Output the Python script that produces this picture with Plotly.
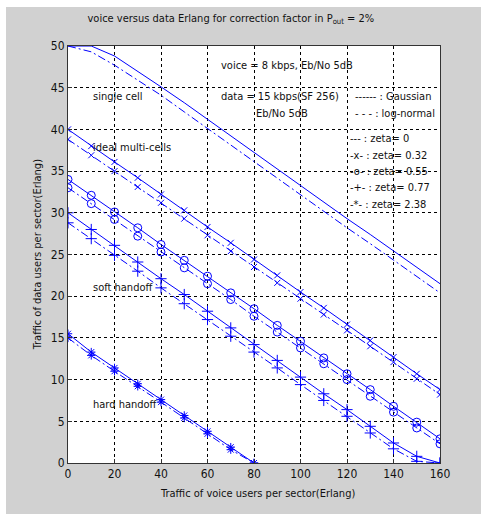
import plotly.graph_objects as go

x_all = [0, 10, 20, 30, 40, 50, 60, 70, 80, 90, 100, 110, 120, 130, 140, 150, 160]
x_hard = [0, 10, 20, 30, 40, 50, 60, 70, 80]

single_gauss = [50, 50, 48.8, 47.0, 45.1, 43.2, 41.2, 39.2, 37.2, 35.2, 33.2, 31.3, 29.3, 27.4, 25.4, 23.4, 21.5]
single_logn = [50, 49.3, 47.7, 45.9, 44.1, 42.1, 40.1, 38.1, 36.1, 34.1, 32.1, 30.1, 28.2, 26.3, 24.3, 22.3, 20.4]

z032_gauss = [40, 38.0, 36.1, 34.2, 32.2, 30.3, 28.3, 26.4, 24.4, 22.5, 20.5, 18.6, 16.6, 14.7, 12.7, 10.7, 8.8]
z032_logn = [38.8, 36.9, 35.0, 33.1, 31.2, 29.3, 27.3, 25.4, 23.5, 21.6, 19.7, 17.8, 15.9, 14.0, 12.1, 10.1, 8.2]

z055_gauss = [34.0, 32.1, 30.1, 28.2, 26.2, 24.3, 22.4, 20.4, 18.5, 16.5, 14.6, 12.6, 10.7, 8.8, 6.8, 4.9, 2.9]
z055_logn = [33.0, 31.1, 29.2, 27.2, 25.3, 23.4, 21.5, 19.6, 17.6, 15.7, 13.8, 11.9, 10.0, 8.0, 6.1, 4.2, 2.3]

z077_gauss = [30.0, 28.0, 26.1, 24.1, 22.1, 20.2, 18.2, 16.2, 14.2, 12.3, 10.3, 8.3, 6.4, 4.4, 2.4, 0.8, 0]
z077_logn = [28.8, 26.9, 24.9, 23.0, 21.0, 19.1, 17.2, 15.2, 13.3, 11.4, 9.4, 7.5, 5.6, 3.6, 1.7, 0.2, 0]

z238_gauss = [15.5, 13.3, 11.4, 9.5, 7.6, 5.7, 3.8, 1.9, 0]
z238_logn = [15.0, 12.9, 11.0, 9.2, 7.3, 5.4, 3.5, 1.6, 0]

BLUE = "#0000ff"
DASHDOT = "8px,3px,2px,3px"
FONT = "DejaVu Sans Condensed, Liberation Sans Narrow, sans-serif"

fig = go.Figure()

def add(xs, ys, dash, symbol=None, size=8):
    mode = "lines" if symbol is None else "lines+markers"
    fig.add_trace(go.Scatter(
        x=xs, y=ys, mode=mode,
        line=dict(color=BLUE, width=1, dash=dash),
        marker=dict(symbol=symbol or "circle", size=size, color=BLUE,
                    line=dict(color=BLUE, width=1)),
        showlegend=False, hoverinfo="skip"))

add(x_all, single_gauss, "solid")
add(x_all, single_logn, DASHDOT)
add(x_all, z032_gauss, "solid", "x-thin", 6)
add(x_all, z032_logn, DASHDOT, "x-thin", 6)
add(x_all, z055_gauss, "solid", "circle-open", 8)
add(x_all, z055_logn, DASHDOT, "circle-open", 8)
add(x_all, z077_gauss, "solid", "cross-thin", 8)
add(x_all, z077_logn, DASHDOT, "cross-thin", 8)
add(x_hard, z238_gauss, "solid", "asterisk-open", 7)
add(x_hard, z238_logn, DASHDOT, "asterisk-open", 7)

tf = dict(family=FONT, size=11, color="#111111")
notes = [
    (65, 47.7, "voice = 8 kbps, Eb/No 5dB"),
    (65, 43.9, "data = 15 kbps(SF 256)"),
    (80, 41.9, "Eb/No 5dB"),
    (122.5, 43.9, "------ : Gaussian"),
    (122.5, 41.9, "- - - : log-normal"),
    (120.5, 38.9, "--- : zeta= 0"),
    (120.5, 36.9, "-x- : zeta= 0.32"),
    (120.5, 35.0, "-o- : zeta= 0.55"),
    (120.5, 33.0, "-+- : zeta= 0.77"),
    (120.5, 31.0, "-*- : zeta= 2.38"),
    (10, 43.9, "single cell"),
    (10, 37.8, "ideal multi-cells"),
    (10, 21.0, "soft handoff"),
    (10, 7.0, "hard handoff"),
]
for xx, yy, t in notes:
    fig.add_annotation(x=xx, y=yy, text=t, showarrow=False, xanchor="left",
                       yanchor="middle", font=tf)

# axis titles
fig.add_annotation(xref="paper", yref="paper", x=0.51, y=-0.074,
                   text="Traffic of voice users per sector(Erlang)", showarrow=False,
                   xanchor="center", yanchor="middle", font=tf)
fig.add_annotation(xref="paper", yref="paper", x=-0.081, y=0.5,
                   text="Traffic of data users per sector(Erlang)", showarrow=False,
                   textangle=-90, xanchor="center", yanchor="middle", font=tf)

# white outer margins
for x0, x1, y0, y1 in [(-0.3, 1.3, 1.0935, 1.3), (-0.3, -0.1667, -0.3, 1.3), (-0.3, 1.3, -0.3, -0.1223)]:
    fig.add_shape(type="rect", xref="paper", yref="paper", x0=x0, x1=x1, y0=y0, y1=y1,
                  fillcolor="white", line=dict(width=0), layer="above")

axis_common = dict(showline=True, linecolor="#333333", linewidth=1, mirror=True,
                   ticks="inside", ticklen=4, tickcolor="#333333",
                   showgrid=True, gridcolor="#000000", gridwidth=1, griddash="3px,3px",
                   zeroline=False, tickfont=dict(family=FONT, size=12, color="#111111"))

fig.update_xaxes(range=[0, 160], tickvals=[0, 20, 40, 60, 80, 100, 120, 140, 160], **axis_common)
fig.update_yaxes(range=[0, 50], tickvals=[0, 5, 10, 15, 20, 25, 30, 35, 40, 45, 50], **axis_common)

fig.update_layout(
    width=481, height=515,
    margin=dict(l=68, r=41, t=46, b=52),
    paper_bgcolor="#d1d1d1", plot_bgcolor="white",
    title=dict(text="voice versus data Erlang for correction factor in P<sub>out</sub> = 2%",
               x=0.48, xanchor="center", y=0.965, yanchor="middle",
               font=dict(family=FONT, size=11, color="#111111")),
)

fig.write_html("out.html")
